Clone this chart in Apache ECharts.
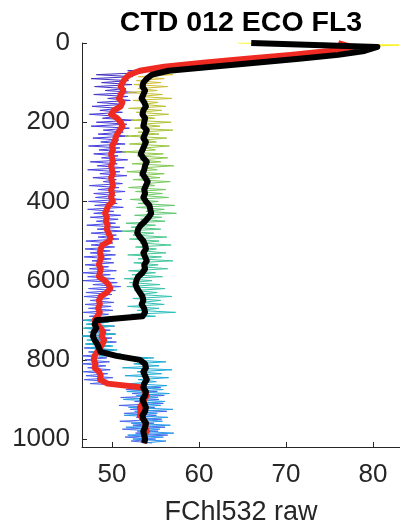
<!DOCTYPE html>
<html>
<head>
<meta charset="utf-8">
<script src="https://cdn.jsdelivr.net/npm/echarts@6/dist/echarts.min.js"></script>
<style>
html,body{margin:0;padding:0;background:#fff;}
#chart{width:400px;height:527px;}
</style>
</head>
<body>
<div id="chart"></div>
<script>
// ---- data ----
var titleText = 'CTD 012 ECO FL3';
var xName = 'FChl532 raw';
var xTicks = [50, 60, 70, 80];
var yTicks = [0, 200, 400, 600, 800, 1000];

// sampling grids (m)
var rawStep = 5;     // raw profiles: depth = index * 5
var smoothStep = 10; // smoothed profiles: depth = index * 10

// raw downcast (blue), 0..1010 m every 5 m
var downRaw = [
74, 78, 76.5, 78.2, 73, 74.5, 69, 70.5, 64, 65.5,
59, 60, 55, 55.8, 51.8, 53.5, 48.2, 52.4, 47.6, 51.9,
48.8, 52.3, 48.0, 51.6, 49.2, 52.8, 47.9, 51.8, 49.5, 52.1,
48.3, 51.4, 47.7, 50.9, 48.6, 51.2, 47.4, 50.6, 48.9, 52.5,
48.2, 51.7, 47.6, 52.0, 49.0, 51.3, 48.4, 51.9, 47.8, 50.8,
48.7, 51.5, 47.3, 50.9, 48.5, 51.6, 47.9, 50.7, 48.8, 51.8,
47.5, 50.6, 48.3, 51.4, 47.2, 50.9, 48.6, 51.7, 47.8, 50.5,
49.0, 51.2, 47.4, 50.8, 48.4, 51.5, 47.9, 50.4, 48.1, 51.1,
47.3, 50.6, 48.0, 51.3, 47.2, 50.2, 47.9, 51.0, 47.5, 50.7,
48.2, 50.4, 47.1, 50.9, 48.3, 51.2, 47.6, 50.5, 48.4, 50.8,
47.0, 50.1, 47.6, 50.3, 46.9, 49.8, 47.5, 50.4, 46.8, 49.9,
47.7, 50.2, 46.9, 49.6, 47.4, 50.5, 46.6, 49.8, 47.2, 50.3,
46.7, 50.6, 47.8, 51.0, 47.3, 50.4, 47.0, 50.0, 46.8, 49.7,
47.5, 50.2, 46.9, 49.9, 47.3, 50.1, 46.7, 49.6, 47.4, 50.0,
46.6, 49.5, 47.2, 50.3, 46.9, 49.8, 47.5, 50.4, 46.7, 50.0,
47.6, 50.5, 47.1, 49.9, 46.8, 50.2, 47.3, 49.6, 46.6, 49.4,
46.9, 49.7, 46.6, 49.3, 47.2, 49.8, 46.7, 49.5, 47.0, 50.1,
46.8, 49.9, 47.5, 52.0, 55.6, 51.6, 55.2, 52.3, 56.0, 51.0,
55.4, 52.6, 55.9, 50.8, 54.9, 52.1, 56.3, 51.4, 55.1, 52.8,
55.7, 50.9, 54.8, 52.4, 56.1, 51.2, 55.3, 52.7, 56.4, 51.5,
55.0, 52.2, 54.6
];

// raw upcast (yellow -> green -> teal -> light blue), 0..1010 m every 5 m
var upRaw = [
64.5, 83, 78.5, 76, 78, 73.5, 75.5, 70.5, 71.5, 66,
66.5, 62, 60.5, 58, 56.5, 55, 57, 53, 56, 52.8,
55.6, 52.5, 56.4, 53, 55.2, 51.8, 55.8, 53.1, 56.9, 52.4,
55.3, 53.6, 56.2, 51.9, 55.7, 52.8, 56.5, 53.3, 54.9, 52.2,
56.8, 53.4, 55.5, 52.6, 57.0, 53.0, 55.4, 51.5, 56.3, 53.5,
55.1, 52.0, 56.6, 53.7, 55.0, 51.2, 55.9, 52.9, 56.4, 53.2,
55.6, 52.3, 57.1, 53.6, 55.2, 51.7, 56.0, 53.1, 55.5, 52.4,
56.7, 53.8, 54.9, 51.9, 56.2, 52.7, 55.8, 53.4, 56.5, 52.1,
55.3, 53.0, 57.2, 52.8, 56.0, 53.9, 57.4, 52.6, 55.7, 53.3,
56.1, 51.6, 55.0, 52.2, 55.6, 51.1, 54.8, 52.4, 56.3, 52.0,
55.4, 53.2, 56.8, 52.7, 55.1, 53.5, 56.2, 51.8, 55.7, 53.0,
57.0, 52.5, 55.3, 53.4, 56.4, 51.9, 55.0, 52.3, 55.8, 51.4,
54.6, 52.0, 55.5, 51.7, 56.1, 52.6, 55.2, 53.1, 56.9, 52.4,
55.6, 53.3, 56.0, 51.8, 55.4, 52.9, 57.3, 52.2, 55.0, 49.5,
46.8, 49.6, 47.0, 50.2, 46.7, 49.1, 47.3, 50.4, 46.6, 49.0,
47.1, 49.8, 46.9, 50.1, 47.4, 50.6, 47.6, 51.0, 48.5, 54.8,
51.8, 56.2, 52.5, 55.4, 51.2, 56.9, 52.9, 55.7, 51.5, 56.5,
53.0, 55.1, 52.1, 56.3, 53.4, 55.9, 51.7, 56.6, 52.8, 55.3,
51.3, 56.1, 53.2, 55.6, 51.9, 57.0, 52.6, 55.2, 51.4, 56.4,
53.1, 55.8, 52.2, 56.7, 51.6, 55.5, 52.9, 57.1, 51.8, 55.9,
52.4, 56.2, 53.5
];

// smoothed downcast (red), 0..1010 m every 10 m
var redSmooth = [
76, 77.5, 75, 70.5, 65.5, 60.5, 56, 53.2, 52.0, 51.5,
51.2, 51.0, 51.3, 51.0, 50.8, 51.2, 51.0, 50.2, 49.9, 50.6,
51.0, 51.2, 50.9, 50.6, 50.4, 50.3, 50.0, 50.1, 49.9, 50.0,
50.1, 49.9, 50.0, 50.1, 49.9, 50.0, 50.1, 49.9, 50.0, 49.9,
50.1, 49.6, 49.4, 49.2, 49.4, 49.3, 49.5, 49.4, 49.6, 49.8,
49.7, 48.9, 48.7, 48.6, 48.8, 48.6, 48.5, 48.7, 48.6, 48.5,
49.2, 49.6, 49.8, 49.4, 48.7, 48.5, 48.6, 48.4, 48.6, 48.3,
48.0, 48.3, 48.7, 49.0, 48.8, 49.1, 48.9, 48.6, 48.3, 48.0,
47.9, 48.1, 48.0, 48.5, 48.7, 48.6, 49.5, 53.5, 53.8, 54.0,
53.7, 53.5, 53.2, 53.3, 53.2, 53.6, 53.9, 53.8, 54.0, 53.7,
53.8, 53.6
];

// smoothed upcast (black), 0..1010 m every 10 m
var blackSmooth = [
66, 80.5, 79, 76, 71.5, 66.5, 61.5, 56.5, 54.6, 54.0,
53.6, 53.5, 53.8, 53.6, 53.4, 53.7, 53.9, 53.6, 53.5, 53.8,
53.7, 53.6, 54.0, 53.8, 53.6, 53.9, 53.7, 53.5, 53.3, 53.6,
54.0, 53.8, 53.7, 53.5, 53.8, 54.1, 53.9, 53.7, 53.8, 53.6,
53.9, 54.3, 54.4, 54.5, 54.2, 53.8, 53.3, 53.0, 52.9, 53.2,
53.6, 53.8, 53.9, 53.6, 53.8, 54.0, 53.7, 53.8, 53.5, 53.0,
52.8, 52.7, 52.9, 53.2, 53.5, 53.6, 53.4, 53.7, 53.8, 53.5,
48.2, 48.0, 48.2, 47.9, 47.8, 48.0, 48.3, 48.5, 48.7, 50.5,
53.2, 53.8, 53.9, 53.6, 53.8, 54.0, 53.7, 53.6, 53.9, 53.8,
53.5, 53.7, 53.9, 53.8, 53.5, 53.6, 53.9, 53.8, 53.6, 53.7,
53.8, 53.7
];

function pairs(vals, step) {
  return vals.map(function (v, i) { return [v, i * step]; });
}

var FONT = '"Liberation Sans", Arial, Helvetica, sans-serif';
var AX = '#262626';

var chart = echarts.init(document.getElementById('chart'), null, {renderer: 'canvas'});
chart.setOption({
  animation: false,
  backgroundColor: '#fff',
  graphic: [{
    type: 'text',
    x: 241, y: 23,
    style: {
      text: titleText,
      fill: '#000',
      font: 'bold 28.5px ' + FONT,
      align: 'center', verticalAlign: 'middle',
      textAlign: 'center', textVerticalAlign: 'middle'
    }
  }],
  grid: {left: 82, right: 0, top: 43, bottom: 80, containLabel: false, outerBoundsMode: 'none'},
  xAxis: {
    type: 'value', min: 46.55, max: 83.1,
    name: xName, nameLocation: 'middle', nameGap: 52,
    nameTextStyle: {fontSize: 27, color: AX, fontFamily: FONT},
    axisLine: {show: true, onZero: false, lineStyle: {color: AX, width: 1}},
    axisTick: {show: true, inside: true, length: 5, lineStyle: {color: AX}, customValues: xTicks},
    axisLabel: {fontSize: 26, color: AX, fontFamily: FONT, margin: 15, customValues: xTicks,
      formatter: function (v) { return String(v); }},
    splitLine: {show: false}
  },
  yAxis: {
    type: 'value', inverse: true, min: 0, max: 1020,
    axisLine: {show: true, onZero: false, lineStyle: {color: AX, width: 1}},
    axisTick: {show: true, inside: true, length: 5, lineStyle: {color: AX}, customValues: yTicks},
    axisLabel: {fontSize: 26, color: AX, fontFamily: FONT, margin: 12, customValues: yTicks,
      formatter: function (v) { return String(v); }},
    splitLine: {show: false}
  },
  visualMap: [
    {
      type: 'continuous', show: false, seriesIndex: 0, dimension: 1,
      min: 0, max: 1010,
      inRange: {color: ['#3e26a8', '#4236d0', '#4640e0', '#4848e6', '#4850ea', '#4858ec', '#4860ee', '#4a6cf0']}
    },
    {
      type: 'continuous', show: false, seriesIndex: 1, dimension: 1,
      min: 0, max: 1010,
      inRange: {color: ['#f9f50e', '#f6c03a', '#d0bc34', '#c0c030', '#b0c238', '#9cc640', '#88c850',
        '#78c85c', '#68c86c', '#58c880', '#4cc892', '#42c6a0', '#3ac4aa', '#30c0b4', '#26bcc0',
        '#1eb6ca', '#1caed4', '#20a6dc', '#24a0e2', '#2898e8', '#2d90ee']}
    }
  ],
  series: [
    {type: 'line', name: 'downcast raw', data: pairs(downRaw, rawStep), showSymbol: false, symbol: 'none',
      lineStyle: {width: 1}, z: 1},
    {type: 'line', name: 'upcast raw', data: pairs(upRaw, rawStep), showSymbol: false, symbol: 'none',
      lineStyle: {width: 1}, z: 2},
    {type: 'line', name: 'downcast smooth', data: pairs(redSmooth, smoothStep), showSymbol: false, symbol: 'none',
      lineStyle: {width: 6, color: '#ee2a22', join: 'round'}, itemStyle: {color: '#ee2a22'}, z: 3},
    {type: 'line', name: 'upcast smooth', data: pairs(blackSmooth, smoothStep), showSymbol: false, symbol: 'none',
      lineStyle: {width: 6, color: '#000', join: 'round'}, itemStyle: {color: '#000'}, z: 4}
  ]
});
</script>
</body>
</html>
